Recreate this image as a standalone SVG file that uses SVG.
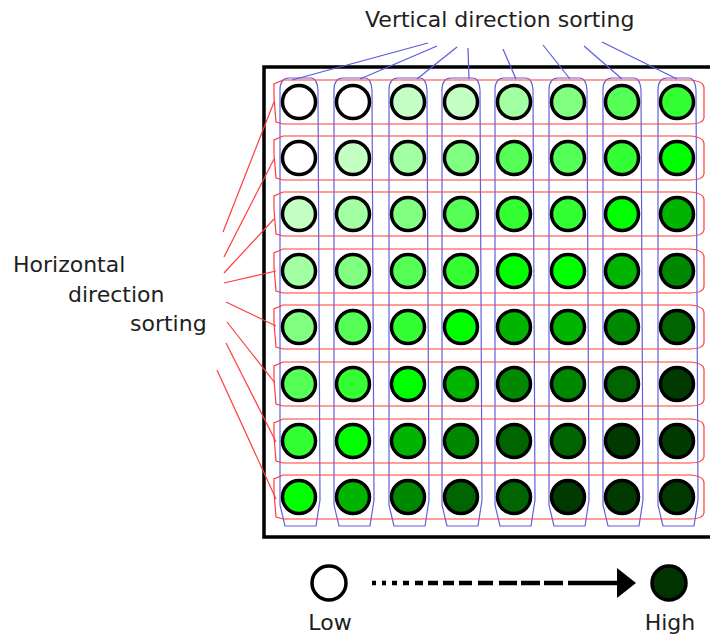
<svg xmlns="http://www.w3.org/2000/svg" width="710" height="636" viewBox="0 0 710 636">
<style>
text{font-family:"DejaVu Sans","Liberation Sans",sans-serif;font-size:22px;fill:#1e1e1e}
.c{stroke:#000;stroke-width:3.5}
.l0{fill:#ffffff}.l1{fill:#c4ffc4}.l2{fill:#a2ffa2}.l3{fill:#80ff80}.l4{fill:#55ff55}.l5{fill:#33ff33}
.l6{fill:#00ff00}.l7{fill:#00b400}.l8{fill:#008800}.l9{fill:#006400}.l10{fill:#003a00}
.row{fill:none;stroke:#ff3c3c;stroke-width:1.2}
.col{fill:none;stroke:#6060e0;stroke-width:1.2}
.rl{stroke:#ff3c3c;stroke-width:1.2}
.bl{stroke:#5a5ae0;stroke-width:1.2}
.leg{stroke:#000;stroke-width:4.5}
</style>
<defs>
<path id="colshape" d="M -19,90 Q -19,78 -10,78 L 12,78 Q 18,78 19,90 L 21,500 L 17,526 L -14,526 L -19,505 Z"/>
<path id="rowshape" d="M 283,-22 L 690,-22 Q 704,-21 704,-14 L 704,16 Q 703,22 690,22 L 283,22 L 276,20 L 274,-4 L 274,-18 Z"/>
</defs>

<rect id="frame" x="264" y="67" width="452" height="470" fill="none" stroke="#000" stroke-width="3.5"/>

<g id="column-outlines">
<use href="#colshape" class="col" transform="translate(299,0)"/>
<use href="#colshape" class="col" transform="translate(353,0)"/>
<use href="#colshape" class="col" transform="translate(408,0)"/>
<use href="#colshape" class="col" transform="translate(461,0)"/>
<use href="#colshape" class="col" transform="translate(514,0)"/>
<use href="#colshape" class="col" transform="translate(568,0)"/>
<use href="#colshape" class="col" transform="translate(622,0)"/>
<use href="#colshape" class="col" transform="translate(677,0)"/>
</g>

<g id="row-outlines">
<use href="#rowshape" class="row" transform="translate(0,102)"/>
<use href="#rowshape" class="row" transform="translate(0,158)"/>
<use href="#rowshape" class="row" transform="translate(0,214)"/>
<use href="#rowshape" class="row" transform="translate(0,271)"/>
<use href="#rowshape" class="row" transform="translate(0,327)"/>
<use href="#rowshape" class="row" transform="translate(0,384)"/>
<use href="#rowshape" class="row" transform="translate(0,441)"/>
<use href="#rowshape" class="row" transform="translate(0,497)"/>
</g>

<g id="connectors">
<line class="bl" x1="428" y1="43" x2="292" y2="80"/>
<line class="bl" x1="437" y1="46" x2="360" y2="79"/>
<line class="bl" x1="457" y1="47" x2="417" y2="79"/>
<line class="bl" x1="468" y1="48" x2="469" y2="79"/>
<line class="bl" x1="503" y1="49" x2="516" y2="79"/>
<line class="bl" x1="543" y1="45" x2="570" y2="79"/>
<line class="bl" x1="584" y1="46" x2="622" y2="79"/>
<line class="bl" x1="602" y1="42" x2="677" y2="79"/>
<line class="rl" x1="223" y1="232" x2="274" y2="102"/>
<line class="rl" x1="224" y1="257" x2="274" y2="159"/>
<line class="rl" x1="224" y1="273" x2="274" y2="219"/>
<line class="rl" x1="224" y1="283" x2="276" y2="271"/>
<line class="rl" x1="226" y1="302" x2="276" y2="326"/>
<line class="rl" x1="227" y1="322" x2="275" y2="383"/>
<line class="rl" x1="226" y1="343" x2="276" y2="442"/>
<line class="rl" x1="217" y1="370" x2="276" y2="499"/>
</g>

<g id="grid">
<g id="row1">
<circle class="c l0" cx="299" cy="102" r="16.5"/><circle class="c l0" cx="353" cy="102" r="16.5"/><circle class="c l1" cx="408" cy="102" r="16.5"/><circle class="c l1" cx="461" cy="102" r="16.5"/><circle class="c l2" cx="514" cy="102" r="16.5"/><circle class="c l3" cx="568" cy="102" r="16.5"/><circle class="c l4" cx="622" cy="102" r="16.5"/><circle class="c l5" cx="677" cy="102" r="16.5"/>
</g>
<g id="row2">
<circle class="c l0" cx="299" cy="158" r="16.5"/><circle class="c l1" cx="353" cy="158" r="16.5"/><circle class="c l2" cx="408" cy="158" r="16.5"/><circle class="c l3" cx="461" cy="158" r="16.5"/><circle class="c l4" cx="514" cy="158" r="16.5"/><circle class="c l4" cx="568" cy="158" r="16.5"/><circle class="c l5" cx="622" cy="158" r="16.5"/><circle class="c l6" cx="677" cy="158" r="16.5"/>
</g>
<g id="row3">
<circle class="c l1" cx="299" cy="214" r="16.5"/><circle class="c l2" cx="353" cy="214" r="16.5"/><circle class="c l3" cx="408" cy="214" r="16.5"/><circle class="c l4" cx="461" cy="214" r="16.5"/><circle class="c l5" cx="514" cy="214" r="16.5"/><circle class="c l5" cx="568" cy="214" r="16.5"/><circle class="c l6" cx="622" cy="214" r="16.5"/><circle class="c l7" cx="677" cy="214" r="16.5"/>
</g>
<g id="row4">
<circle class="c l2" cx="299" cy="271" r="16.5"/><circle class="c l3" cx="353" cy="271" r="16.5"/><circle class="c l4" cx="408" cy="271" r="16.5"/><circle class="c l5" cx="461" cy="271" r="16.5"/><circle class="c l6" cx="514" cy="271" r="16.5"/><circle class="c l6" cx="568" cy="271" r="16.5"/><circle class="c l7" cx="622" cy="271" r="16.5"/><circle class="c l8" cx="677" cy="271" r="16.5"/>
</g>
<g id="row5">
<circle class="c l3" cx="299" cy="327" r="16.5"/><circle class="c l4" cx="353" cy="327" r="16.5"/><circle class="c l5" cx="408" cy="327" r="16.5"/><circle class="c l6" cx="461" cy="327" r="16.5"/><circle class="c l7" cx="514" cy="327" r="16.5"/><circle class="c l7" cx="568" cy="327" r="16.5"/><circle class="c l8" cx="622" cy="327" r="16.5"/><circle class="c l9" cx="677" cy="327" r="16.5"/>
</g>
<g id="row6">
<circle class="c l4" cx="299" cy="384" r="16.5"/><circle class="c l5" cx="353" cy="384" r="16.5"/><circle class="c l6" cx="408" cy="384" r="16.5"/><circle class="c l7" cx="461" cy="384" r="16.5"/><circle class="c l8" cx="514" cy="384" r="16.5"/><circle class="c l8" cx="568" cy="384" r="16.5"/><circle class="c l9" cx="622" cy="384" r="16.5"/><circle class="c l10" cx="677" cy="384" r="16.5"/>
</g>
<g id="row7">
<circle class="c l5" cx="299" cy="441" r="16.5"/><circle class="c l6" cx="353" cy="441" r="16.5"/><circle class="c l7" cx="408" cy="441" r="16.5"/><circle class="c l8" cx="461" cy="441" r="16.5"/><circle class="c l9" cx="514" cy="441" r="16.5"/><circle class="c l9" cx="568" cy="441" r="16.5"/><circle class="c l10" cx="622" cy="441" r="16.5"/><circle class="c l10" cx="677" cy="441" r="16.5"/>
</g>
<g id="row8">
<circle class="c l6" cx="299" cy="497" r="16.5"/><circle class="c l7" cx="353" cy="497" r="16.5"/><circle class="c l8" cx="408" cy="497" r="16.5"/><circle class="c l9" cx="461" cy="497" r="16.5"/><circle class="c l9" cx="514" cy="497" r="16.5"/><circle class="c l10" cx="568" cy="497" r="16.5"/><circle class="c l10" cx="622" cy="497" r="16.5"/><circle class="c l10" cx="677" cy="497" r="16.5"/>
</g>
</g>

<g id="label-vertical"><text x="365" y="27">Vertical direction sorting</text></g>
<g id="label-horizontal">
<text x="13" y="272">Horizontal</text>
<text x="68" y="302">direction</text>
<text x="130" y="331">sorting</text>
</g>

<g id="legend">
<g id="low"><circle cx="329" cy="583" r="17" fill="#fff" stroke="#000" stroke-width="3.5"/><text x="330" y="630" text-anchor="middle">Low</text></g>
<g id="high"><circle cx="669" cy="583" r="17" fill="#003300" stroke="#000" stroke-width="3.5"/><text x="670" y="630" text-anchor="middle">High</text></g>
<g id="legend-arrow">
<path class="leg" d="M372,583h4M382,583h4M392,583h5M403,583h6M415,583h8M428,583h10M443,583h11M459,583h13M478,583h15M499,583h18M521,583h19M544,583h19M568,583h52"/>
<polygon points="617,568 636,583 617,598" fill="#000"/>
</g>
</g>
</svg>
